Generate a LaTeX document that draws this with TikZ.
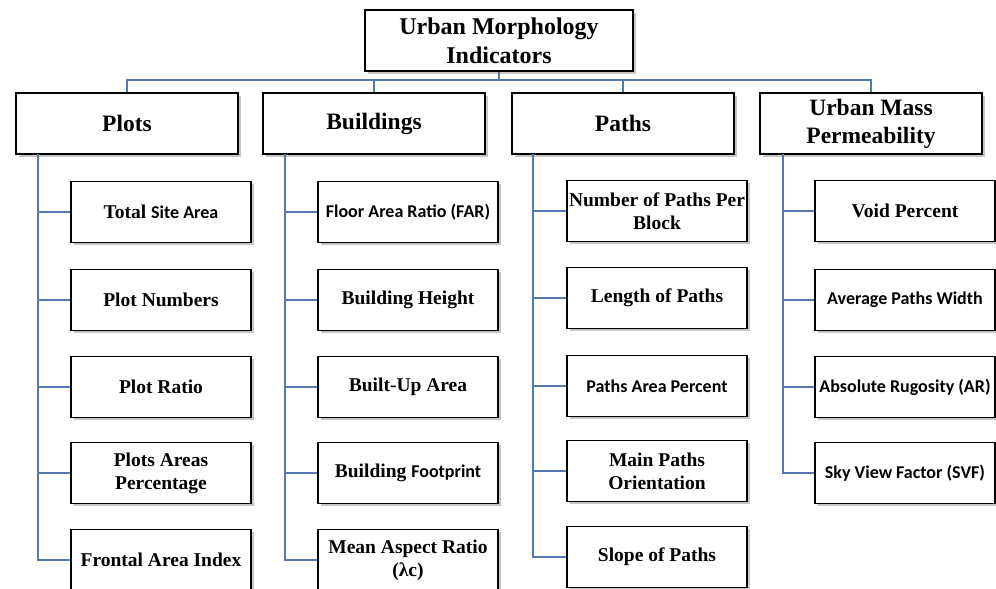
\documentclass[tikz,border=0pt]{standalone}
\usepackage{fontspec}
\setmainfont{Liberation Serif}
\newfontfamily\calibfont{Carlito}
\newcommand{\cbri}[1]{{\calibfont\fontsize{18}{22}\selectfont #1}}
\usetikzlibrary{shadows}
\definecolor{linkblue}{RGB}{84,121,178}

\begin{document}
\begin{tikzpicture}[x=1pt,y=-1pt,
  box/.style={draw,line width=1.2pt,fill=white,align=center,inner sep=1pt,
    drop shadow={shadow xshift=2.5pt,shadow yshift=-2.5pt,opacity=.45},
    minimum height=61pt},
  rootbox/.style={box,minimum width=268pt,font=\bfseries\fontsize{24}{29}\selectfont},
  groupbox/.style={box,minimum width=222pt,font=\bfseries\fontsize{23.5}{28}\selectfont},
  itembox/.style={box,minimum width=180pt,font=\bfseries\fontsize{19.5}{23}\selectfont},
  link/.style={draw=linkblue,line width=1.3pt}]
\path[use as bounding box,clip] (0,0) rectangle (996,589);

  \node[rootbox] (root) at (499,40.5) {Urban Morphology\\Indicators};
  \coordinate (bus) at (499,80);

\begin{scope}[shift={(16,0)}]
  \node[groupbox] (P) at (111,123.5) {Plots};
  \node[itembox] (P1) at (145,212) {Total \cbri{Site Area}};
  \node[itembox] (P2) at (145,300) {Plot Numbers};
  \node[itembox] (P3) at (145,387) {Plot Ratio};
  \node[itembox] (P4) at (145,473) {Plots Areas\\Percentage};
  \node[itembox] (P5) at (145,560) {Frontal Area Index};
  \coordinate (Pt) at (22,154);

  \draw[link] (Pt) |- (P5.west);
  \draw[link] (Pt) |- (P1.west) (Pt) |- (P2.west) (Pt) |- (P3.west) (Pt) |- (P4.west);
\end{scope}

\begin{scope}[shift={(263,0)}]
  \node[groupbox] (B) at (111,123.5) {Buildings};
  \node[itembox] (B1) at (145,212) {\cbri{Floor Area Ratio (FAR)}};
  \node[itembox] (B2) at (145,300) {Building Height};
  \node[itembox] (B3) at (145,387) {Built-Up Area};
  \node[itembox] (B4) at (145,473) {Building \cbri{Footprint}};
  \node[itembox] (B5) at (145,560) {Mean Aspect Ratio\\(λc)};
  \coordinate (Bt) at (22,154);

  \draw[link] (Bt) |- (B5.west);
  \draw[link] (Bt) |- (B1.west) (Bt) |- (B2.west) (Bt) |- (B3.west) (Bt) |- (B4.west);
\end{scope}

\begin{scope}[shift={(512,0)}]
  \node[groupbox] (W) at (111,123.5) {Paths};
  \node[itembox] (W1) at (145,211) {Number of Paths Per\\Block};
  \node[itembox] (W2) at (145,298) {Length of Paths};
  \node[itembox] (W3) at (145,386) {\cbri{Paths Area Percent}};
  \node[itembox] (W4) at (145,471) {Main Paths\\Orientation};
  \node[itembox] (W5) at (145,557) {Slope of Paths};
  \coordinate (Wt) at (21,154);

  \draw[link] (Wt) |- (W5.west);
  \draw[link] (Wt) |- (W1.west) (Wt) |- (W2.west) (Wt) |- (W3.west) (Wt) |- (W4.west);
\end{scope}

\begin{scope}[shift={(760,0)}]
  \node[groupbox] (U) at (111,123.5) {Urban Mass\\Permeability};
  \node[itembox] (U1) at (145,211) {Void Percent};
  \node[itembox] (U2) at (145,300) {\cbri{Average Paths Width}};
  \node[itembox] (U3) at (145,387) {\cbri{Absolute Rugosity (AR)}};
  \node[itembox] (U4) at (145,473) {\cbri{Sky View Factor (SVF)}};
  \coordinate (Ut) at (23,154);

  \draw[link] (Ut) |- (U4.west);
  \draw[link] (Ut) |- (U1.west) (Ut) |- (U2.west) (Ut) |- (U3.west);
\end{scope}

  \draw[link] (root.south) -- (bus);
  \draw[link] (bus) -| (P.north) (bus) -| (B.north) (bus) -| (W.north) (bus) -| (U.north);

\end{tikzpicture}
\end{document}
